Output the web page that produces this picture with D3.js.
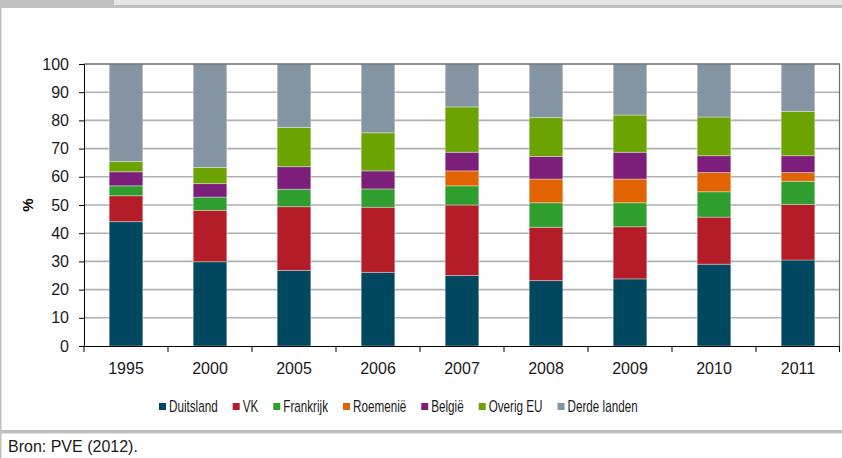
<!DOCTYPE html>
<html>
<head>
<meta charset="utf-8">
<script src="https://cdn.jsdelivr.net/npm/d3@7"></script>
<style>
  body { margin: 0; background: #fff; }
  svg { display: block; }
</style>
</head>
<body>
<svg id="chart" width="842" height="458"></svg>
<script>
// Years on the x axis
const years = ['1995', '2000', '2005', '2006', '2007', '2008', '2009', '2010', '2011'];

// Share per country of origin (%), one value per year
const duitsland = [44.1, 29.9, 26.8, 26.1, 25.0, 23.2, 23.8, 29.0, 30.5];
const vk        = [9.2, 18.2, 22.6, 23.1, 25.0, 18.9, 18.5, 16.7, 19.7];
const frankrijk = [3.5, 4.7, 6.2, 6.5, 6.8, 8.7, 8.5, 9.0, 8.2];
const roemenie  = [0, 0, 0, 0, 5.3, 8.4, 8.4, 6.8, 3.1];
const belgie    = [5.0, 4.8, 8.0, 6.4, 6.6, 8.0, 9.5, 6.0, 6.0];
const overigEU  = [3.6, 5.7, 13.9, 13.5, 16.1, 13.8, 13.2, 13.7, 15.7];
const derde     = [34.6, 36.7, 22.5, 24.4, 15.2, 19.0, 18.1, 18.8, 16.8];

const yTicks = [0, 10, 20, 30, 40, 50, 60, 70, 80, 90, 100];

const series = [
  { name: 'Duitsland', values: duitsland, color: '#00475f' },
  { name: 'VK', values: vk, color: '#b41c27' },
  { name: 'Frankrijk', values: frankrijk, color: '#2f9e2e' },
  { name: 'Roemenië', values: roemenie, color: '#e26400' },
  { name: 'België', values: belgie, color: '#7c1f7b' },
  { name: 'Overig EU', values: overigEU, color: '#6ba300' },
  { name: 'Derde landen', values: derde, color: '#8494a2' }
];

const svg = d3.select('#chart');
const W = 842;

const font = '"Liberation Sans", Arial, sans-serif';
const condense = 0.73; // legend face is a condensed one

// Frame of the figure box
svg.append('rect').attr('x', 0).attr('y', 0).attr('width', W).attr('height', 5).attr('fill', '#e6e6e6');
svg.append('rect').attr('x', 0).attr('y', 5).attr('width', W).attr('height', 3).attr('fill', '#c0c0c0');
svg.append('rect').attr('x', 0).attr('y', 0).attr('width', 114).attr('height', 8).attr('fill', '#c0c0c0');
svg.append('rect').attr('x', 0).attr('y', 8).attr('width', 1.5).attr('height', 450).attr('fill', '#c0c0c0');
svg.append('rect').attr('x', 0).attr('y', 430).attr('width', W).attr('height', 3.5).attr('fill', '#c0c0c0');

// Plot area
const plotLeft = 84, plotRight = 840, plotTop = 64, plotBottom = 346;

const x = d3.scaleBand().domain(years).range([plotLeft, plotRight]).padding(0);
const y = d3.scaleLinear().domain([0, 100]).range([plotBottom, plotTop]);

// Gridlines
svg.append('g')
  .selectAll('line')
  .data(yTicks.filter(d => d > 0 && d < 100))
  .enter()
  .append('line')
  .attr('x1', plotLeft).attr('x2', plotRight)
  .attr('y1', d => y(d)).attr('y2', d => y(d))
  .attr('stroke', '#b0b0b0')
  .attr('stroke-width', 1.6);

// Stack the data
const table = years.map((yr, i) => {
  const row = { year: yr };
  series.forEach(s => { row[s.name] = s.values[i]; });
  return row;
});
const stack = d3.stack().keys(series.map(s => s.name));
const layers = stack(table);

const barW = x.bandwidth() * 0.4;

const layerG = svg.append('g')
  .selectAll('g')
  .data(layers)
  .enter()
  .append('g')
  .attr('fill', (d, i) => series[i].color);

layerG.selectAll('rect')
  .data(d => d.filter(p => p[1] - p[0] > 0))
  .enter()
  .append('rect')
  .attr('x', d => x(d.data.year) + x.bandwidth() / 2 - barW / 2)
  .attr('y', d => y(d[1]))
  .attr('width', barW)
  .attr('height', d => y(d[0]) - y(d[1]))
  .attr('stroke', 'rgba(255,255,255,0.35)')
  .attr('stroke-width', 1);

// Top and right frame
svg.append('line')
  .attr('x1', plotLeft).attr('x2', plotRight)
  .attr('y1', y(100)).attr('y2', y(100))
  .attr('stroke', '#6e6e6e').attr('stroke-width', 1.5);
svg.append('line')
  .attr('x1', plotRight - 0.5).attr('x2', plotRight - 0.5)
  .attr('y1', y(100)).attr('y2', plotBottom + 5)
  .attr('stroke', '#6e6e6e').attr('stroke-width', 1.2);

// Y axis
const yAxis = svg.append('g')
  .attr('transform', `translate(${plotLeft},0)`)
  .call(d3.axisLeft(y).tickValues(yTicks).tickSize(5).tickPadding(10));
yAxis.select('.domain').attr('stroke', '#000');
yAxis.selectAll('.tick line').attr('stroke', '#000');
yAxis.selectAll('text')
  .attr('fill', '#1a1a1a')
  .style('font-family', font)
  .style('font-size', '16px');

// X axis: ticks sit between the categories
svg.append('line')
  .attr('x1', plotLeft).attr('x2', plotRight)
  .attr('y1', plotBottom + 0.5).attr('y2', plotBottom + 0.5)
  .attr('stroke', '#000').attr('stroke-width', 1.2);

const bounds = years.map(d => x(d)).concat([plotRight]);
svg.append('g')
  .selectAll('line')
  .data(bounds)
  .enter()
  .append('line')
  .attr('x1', d => Math.min(d, plotRight - 0.5)).attr('x2', d => Math.min(d, plotRight - 0.5))
  .attr('y1', plotBottom).attr('y2', plotBottom + 6)
  .attr('stroke', '#000').attr('stroke-width', 1);

svg.append('g')
  .selectAll('text')
  .data(years)
  .enter()
  .append('text')
  .attr('x', d => x(d) + x.bandwidth() / 2)
  .attr('y', 374)
  .attr('text-anchor', 'middle')
  .attr('fill', '#1a1a1a')
  .style('font-family', font)
  .style('font-size', '16px')
  .text(d => d);

// Y axis title
svg.append('text')
  .attr('transform', `translate(33, ${(plotTop + plotBottom) / 2}) rotate(-90)`)
  .attr('text-anchor', 'middle')
  .attr('fill', '#000')
  .style('font-family', font)
  .style('font-size', '15px')
  .style('font-weight', 'bold')
  .text('%');

// Legend
const legend = svg.append('g').attr('transform', 'translate(159, 0)');
let lx = 0;
series.forEach(s => {
  const item = legend.append('g').attr('transform', `translate(${lx}, 0)`);
  item.append('rect')
    .attr('x', 0).attr('y', 403)
    .attr('width', 7).attr('height', 7)
    .attr('fill', s.color);
  const t = item.append('text')
    .attr('transform', `translate(10, 412) scale(${condense}, 1)`)
    .attr('fill', '#1a1a1a')
    .style('font-family', font)
    .style('font-size', '16px')
    .text(s.name);
  lx += 10 + t.node().getComputedTextLength() * condense + 15;
});

// Source
svg.append('text')
  .attr('x', 8).attr('y', 452)
  .attr('fill', '#1a1a1a')
  .style('font-family', font)
  .style('font-size', '16px')
  .text('Bron: PVE (2012).');
</script>
</body>
</html>
